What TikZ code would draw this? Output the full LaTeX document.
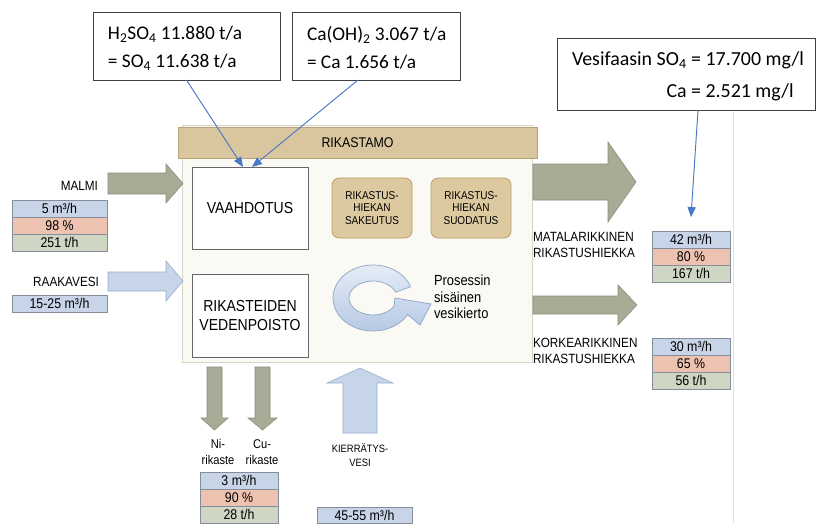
\documentclass[tikz,border=0pt]{standalone}
\usepackage{fontspec}
\setmainfont[FakeStretch=0.88]{Liberation Sans}
\newfontfamily\calibri{Carlito}
\usetikzlibrary{positioning,calc,arrows.meta}

\definecolor{oregreen}{HTML}{A8AC97}
\definecolor{oreline}{HTML}{8A8E7A}
\definecolor{waterblue}{HTML}{C7D5EA}
\definecolor{waterline}{HTML}{98ACC9}
\definecolor{rowblue}{HTML}{C8D4E7}
\definecolor{rowpink}{HTML}{EEC2B0}
\definecolor{rowgreen}{HTML}{D0D6C4}
\definecolor{tabline}{HTML}{858E98}
\definecolor{bartan}{HTML}{D9C69E}
\definecolor{barline}{HTML}{B9A47A}
\definecolor{stagetan}{HTML}{DDC9A0}
\definecolor{stageline}{HTML}{B49C68}
\definecolor{panelfill}{HTML}{FBF9F3}
\definecolor{panelline}{HTML}{D8D4C8}
\definecolor{ringblue}{HTML}{B3C7E3}
\definecolor{ringtop}{HTML}{E8EEF8}
\definecolor{ringline}{HTML}{8CA4C8}
\definecolor{feedblue}{HTML}{4A78C6}

\begin{document}
\begin{tikzpicture}[x=0.03cm, y=-0.03cm,
    every node/.style={inner sep=0pt, outer sep=0pt},
    note/.style={draw=black!75, fill=white, line width=0.7pt, minimum height=2.04cm},
    notetext/.style={anchor=west, align=left, font=\calibri\fontsize{16.5}{24}\selectfont},
    unit/.style={draw=black!60, fill=white, line width=0.6pt, minimum width=3.48cm,
      align=center, font=\fontsize{13.6}{17}\selectfont},
    stage/.style={draw=stageline, fill=stagetan, line width=0.6pt, rounded corners=6pt,
      minimum width=2.4cm, minimum height=1.8cm, align=center, font=\fontsize{9.7}{11}\selectfont},
    row/.style={draw=tabline, line width=0.5pt, minimum height=0.51cm, font=\fontsize{12}{12}\selectfont},
    flow/.style={font=\fontsize{11.4}{13.6}\selectfont},
    feed/.style={draw=feedblue, line width=0.8pt, -{Triangle[length=8.5pt,width=7pt]}}]

    % style of the block arrows
    \tikzstyle{ore}=[draw=oreline, fill=oregreen, line width=0.5pt]
    \tikzstyle{water}=[draw=waterline, fill=waterblue, line width=0.5pt]

    \useasboundingbox (0,0) rectangle (818,523);
    \draw[black!12, line width=0.6pt] (733,112) -- (733,523);

    % rikastamo
    \node[draw=panelline, fill=panelfill, minimum width=10.5cm, minimum height=7.11cm] (panel) at (357,243.5) {};
    \node[draw=barline, fill=bartan, line width=0.6pt, minimum width=10.77cm, minimum height=0.93cm,
      font=\fontsize{12}{12}\selectfont] (rikastamo) at (357.5,142.5) {RIKASTAMO};
    \node[unit, minimum height=2.46cm] (vaahdotus) at (250,208) {VAAHDOTUS};
    \node[unit, minimum height=2.49cm] (vedenpoisto) at (250,315.5) {RIKASTEIDEN\\VEDENPOISTO};
    \node[stage] (sakeutus) at (372,208) {RIKASTUS-\\HIEKAN\\SAKEUTUS};
    \node[stage] (suodatus) at (471,208) {RIKASTUS-\\HIEKAN\\SUODATUS};
    \node[anchor=west, align=left, font=\fontsize{12.5}{14.2}\selectfont] (vesikierto) at (434,297)
      {Prosessin\\sisäinen\\vesikierto};

    \begin{scope}[shift={(373,298)}, yscale=-1]
      \path[draw=ringline, line width=0.6pt, top color=ringtop, bottom color=ringblue]
        (20:40 and 33) arc[start angle=20, end angle=330, x radius=40, y radius=33]
        -- (47,-27) -- (58,-6) -- (22,0)
        -- (330:24 and 17) arc[start angle=330, end angle=20, x radius=24, y radius=17] -- cycle;
    \end{scope}

    % flows in and out
    \draw[ore] (108,173) -- (166,173) -- (166,164) -- (183,183.5) -- (166,203) -- (166,194) -- (108,194) -- cycle;
    \draw[water] (108,272) -- (166,272) -- (166,261) -- (183,281) -- (166,301) -- (166,291) -- (108,291) -- cycle;
    \draw[ore] (533,164) -- (608,164) -- (608,142) -- (636,182) -- (608,222) -- (608,200) -- (533,200) -- cycle;
    \draw[ore] (533,296) -- (618,296) -- (618,285) -- (637,305) -- (618,325) -- (618,314) -- (533,314) -- cycle;
    \draw[ore] (207,367) -- (222,367) -- (222,418) -- (228,418) -- (214.5,430) -- (201,418) -- (207,418) -- cycle;
    \draw[ore] (255,367) -- (270,367) -- (270,418) -- (277,418) -- (262.5,430) -- (248,418) -- (255,418) -- cycle;
    \draw[water] (343,433) -- (343,383) -- (327,383) -- (360,368) -- (393,383) -- (377,383) -- (377,433) -- cycle;

    \node[flow, anchor=east] (malmi) at (98,186) {MALMI};
    \node[flow, anchor=east] (raakavesi) at (99,281.5) {RAAKAVESI};
    \node[flow, anchor=west, align=left] (matala) at (533,244.5) {MATALARIKKINEN\\RIKASTUSHIEKKA};
    \node[flow, anchor=west, align=left] (korkea) at (533,351) {KORKEARIKKINEN\\RIKASTUSHIEKKA};
    \node[align=center, font=\fontsize{10.8}{13.6}\selectfont] (nirikaste) at (218,452) {Ni-\\rikaste};
    \node[align=center, font=\fontsize{10.8}{13.6}\selectfont] (curikaste) at (262,452) {Cu-\\rikaste};
    \node[align=center, font=\fontsize{9.1}{12.3}\selectfont] (kierratys) at (360,455) {KIERRÄTYS-\\VESI};

    % tables
    \node[row, fill=rowblue, minimum width=2.85cm] (malmi1) at (59.5,208.5) {5 m³/h};
    \node[row, fill=rowpink, minimum width=2.85cm, below=0pt of malmi1] (malmi2) {98 \%};
    \node[row, fill=rowgreen, minimum width=2.85cm, below=0pt of malmi2] (malmi3) {251 t/h};
    \node[row, fill=rowblue, minimum width=2.85cm] (raaka1) at (59.5,303.5) {15-25 m³/h};
    \node[row, fill=rowblue, minimum width=2.34cm] (mat1) at (691,239.5) {42 m³/h};
    \node[row, fill=rowpink, minimum width=2.34cm, below=0pt of mat1] (mat2) {80 \%};
    \node[row, fill=rowgreen, minimum width=2.34cm, below=0pt of mat2] (mat3) {167 t/h};
    \node[row, fill=rowblue, minimum width=2.34cm] (kor1) at (691,346.5) {30 m³/h};
    \node[row, fill=rowpink, minimum width=2.34cm, below=0pt of kor1] (kor2) {65 \%};
    \node[row, fill=rowgreen, minimum width=2.34cm, below=0pt of kor2] (kor3) {56 t/h};
    \node[row, fill=rowblue, minimum width=2.34cm] (rik1) at (239,480.5) {3 m³/h};
    \node[row, fill=rowpink, minimum width=2.34cm, below=0pt of rik1] (rik2) {90 \%};
    \node[row, fill=rowgreen, minimum width=2.34cm, below=0pt of rik2] (rik3) {28 t/h};
    \node[row, fill=rowblue, minimum width=2.85cm, minimum height=0.48cm] (kierto1) at (364.5,515) {45-55 m³/h};

    % chemical notes
    \node[note, minimum width=5.61cm] (h2so4) at (186.5,46) {};
    \node[notetext] (h2so4text) at ($(h2so4.west)+(15,2)$)
      {H\textsubscript{2}SO\textsubscript{4} 11.880 t/a\\= SO\textsubscript{4} 11.638 t/a};
    \node[note, minimum width=5.04cm] (caoh) at (376,46) {};
    \node[notetext] (caohtext) at ($(caoh.west)+(15,2)$)
      {Ca(OH)\textsubscript{2} 3.067 t/a\\= Ca 1.656 t/a};
    \node[note, minimum width=7.74cm, minimum height=2.16cm] (vesifaasi) at (686,74) {};
    \node[notetext, font=\calibri\fontsize{17}{27}\selectfont] (vesifaasitext) at ($(vesifaasi.west)+(15,1)$)
      {\begin{tabular}{@{}r@{ }l@{}}Vesifaasin SO\textsubscript{4} & = 17.700 mg/l\\ Ca & = 2.521 mg/l\end{tabular}};

    \draw[feed] (h2so4.south) -- ($(vaahdotus.north)+(-7,0)$);
    \draw[feed] ($(caoh.south)+(-18,0)$) -- ($(vaahdotus.north)+(2,0)$);
    \draw[feed] ($(vesifaasi.south)+(12,0)$) -- ($(mat1.north)+(0,-14)$);
\end{tikzpicture}
\end{document}
